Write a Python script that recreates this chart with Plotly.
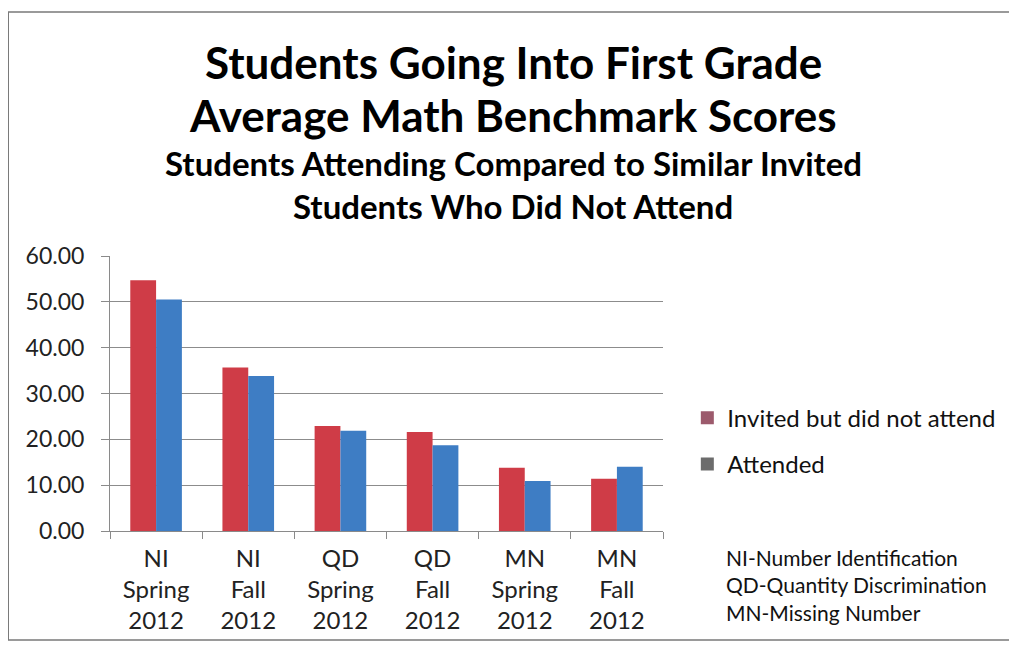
import plotly.graph_objects as go

# категории и стойности (прочетени от графиката)
categories = ["NI<br>Spring<br>2012", "NI<br>Fall<br>2012", "QD<br>Spring<br>2012",
              "QD<br>Fall<br>2012", "MN<br>Spring<br>2012", "MN<br>Fall<br>2012"]
not_attended = [54.7, 35.7, 22.9, 21.6, 13.8, 11.4]
attended = [50.5, 33.8, 21.9, 18.7, 10.9, 14.0]
series_names = ["Invited but did not attend", "Attended"]
y_ticks = [0, 10, 20, 30, 40, 50, 60]

FONT = "Lato"
BAR_COLORS = ["#CF3C47", "#3E7DC4"]
LEGEND_COLORS = ["#9C5A6C", "#6C6C6C"]  # в оригинала легендата е с приглушени цветове

fig = go.Figure()

for name, vals, col in zip(series_names, [not_attended, attended], BAR_COLORS):
    fig.add_trace(go.Bar(
        x=categories, y=vals, name=name,
        marker=dict(color=col, line=dict(width=0)),
        showlegend=False,
    ))

# само за легендата
for i, (name, col) in enumerate(zip(series_names, LEGEND_COLORS)):
    fig.add_trace(go.Scatter(
        x=[None], y=[None], mode="markers", name=name,
        legendgroup="g%d" % i,
        marker=dict(symbol="square", size=13, color=col),
    ))

# тялото на страницата има 8px отстъп, затова фигурата е с 8px по-малка
fig.update_layout(
    width=1009, height=638,
    margin=dict(l=102, r=354, t=248, b=115),
    plot_bgcolor="white", paper_bgcolor="white",
    barmode="group", bargap=0.44, bargroupgap=0,
    font=dict(family=FONT, color="#111111"),
    showlegend=True,
    legend=dict(x=1.044, y=0.492, xanchor="left", yanchor="top",
                font=dict(size=24, family=FONT, color="#111111"),
                tracegroupgap=12, itemwidth=30,
                bgcolor="rgba(0,0,0,0)"),
    xaxis=dict(
        type="category", showgrid=False, showline=True, linecolor="#8a8a8a",
        ticks="outside", tickson="boundaries", ticklen=7, tickcolor="#8a8a8a",
        ticklabelstandoff=6,
        tickfont=dict(size=24, family=FONT, color="#222222"),
    ),
    yaxis=dict(
        range=[0, 60], tickvals=y_ticks, tickformat=".2f",
        showgrid=True, gridcolor="#8c8c8c", gridwidth=1,
        showline=True, linecolor="#8a8a8a", ticks="outside", ticklen=8,
        tickcolor="#8a8a8a", zeroline=False, ticklabelstandoff=12,
        tickfont=dict(size=23, family=FONT, color="#222222"),
    ),
)

# заглавия
titles = [
    ("Students Going Into First Grade", 1.705, 44),
    ("Average Math Benchmark Scores", 1.513, 44),
    ("Students Attending Compared to Similar Invited", 1.338, 33),
    ("Students Who Did Not Attend", 1.182, 33),
]
for text, yy, size in titles:
    fig.add_annotation(
        x=0.729, y=yy, xref="paper", yref="paper", text="<b>%s</b>" % text,
        showarrow=False, xanchor="center", yanchor="middle",
        font=dict(size=size, family=FONT, color="#000000"),
    )

# легенда за съкращенията
fig.add_annotation(
    x=1.11, y=-0.045, xref="paper", yref="paper",
    text="NI-Number Identification<br>QD-Quantity Discrimination<br>MN-Missing Number",
    showarrow=False, xanchor="left", yanchor="top", align="left",
    font=dict(size=21, family=FONT, color="#111111"),
)

# рамка около графиката
fig.add_shape(type="rect", xref="paper", yref="paper",
              x0=-0.184, x1=1.63, y0=-0.396, y1=1.887,
              line=dict(color="#7a7a7a", width=1.5), layer="below")

fig.write_html("out.html")
